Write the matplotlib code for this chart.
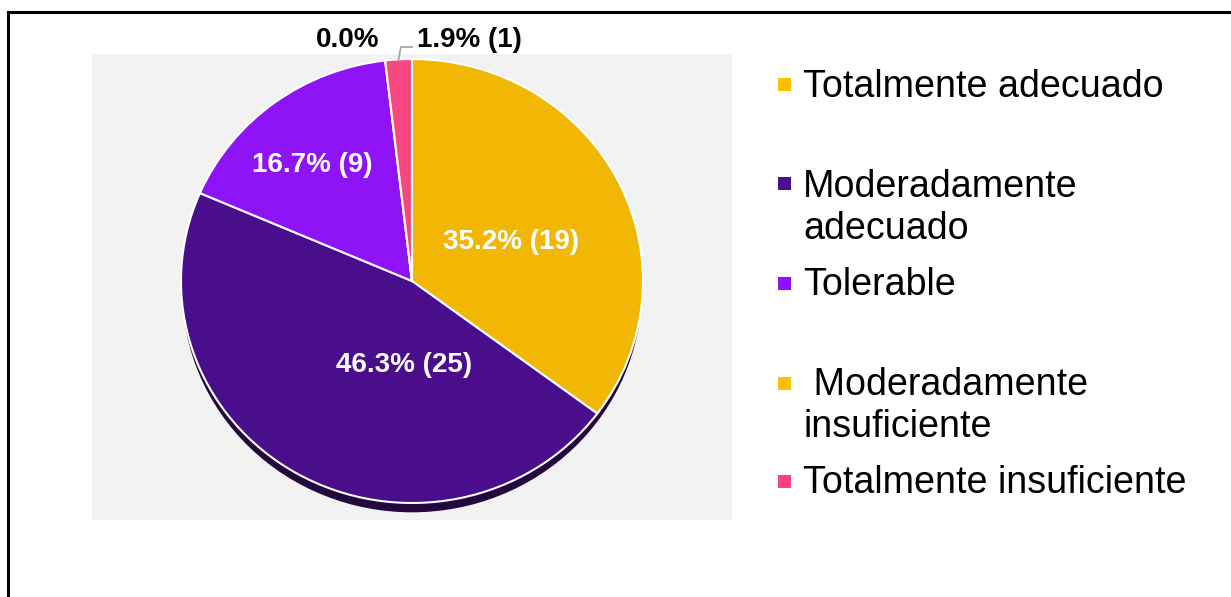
import matplotlib
matplotlib.use("Agg")
import matplotlib.pyplot as plt
from matplotlib.patches import Rectangle, Ellipse
from matplotlib.lines import Line2D
import numpy as np

categories = ["Totalmente adecuado", "Moderadamente adecuado", "Tolerable",
              "Moderadamente insuficiente", "Totalmente insuficiente"]
legend_labels = ["Totalmente adecuado", "Moderadamente\nadecuado", "Tolerable",
                 " Moderadamente\ninsuficiente", "Totalmente insuficiente"]
counts = [19, 25, 9, 0, 1]
colors = ["#f2b705", "#4a0e8c", "#8f13f7", "#f2b705", "#f7477f"]
legend_colors = ["#ffc000", "#4b0d91", "#8f12fe", "#ffc000", "#ff4081"]

W, H = 1231, 597
fig = plt.figure(figsize=(W / 100, H / 100), dpi=100)
fig.patch.set_facecolor("white")

def fx(px):
    return px / W

def fy(py):
    return 1 - py / H

# outer frame (left and top lines)
fig.add_artist(Line2D([fx(8), fx(8)], [fy(12), 0], color="black", lw=2.2,
                      transform=fig.transFigure))
fig.add_artist(Line2D([fx(8), 1], [fy(12), fy(12)], color="black", lw=2.2,
                      transform=fig.transFigure))

# gray plot area
fig.add_artist(Rectangle((fx(92), fy(520)), fx(732) - fx(92), fy(54) - fy(520),
                         transform=fig.transFigure, facecolor="#f2f2f2",
                         edgecolor="none", zorder=0))

# pie axes
cx, cy, rx, ry = 412, 281, 231, 222
ax = fig.add_axes([fx(cx - rx), fy(cy + ry), 2 * rx / W, 2 * ry / H])
ax.set_facecolor("none")

total = sum(counts)
ax.add_patch(Ellipse((0, -0.042), 1.99, 2.0, facecolor="#22083f",
                     edgecolor="none", zorder=0, clip_on=False))
wedges, _ = ax.pie(counts, colors=colors, startangle=90, counterclock=False,
                   radius=1.0, wedgeprops=dict(edgecolor="white", linewidth=1.5),
                   frame=False)
ax.set_aspect("auto")
ax.set_xlim(-1, 1)
ax.set_ylim(-1, 1)
ax.axis("off")

pcts = [100 * c / total for c in counts]
texts = [f"{p:.1f}% ({c})" if c > 0 else f"{p:.1f}%" for p, c in zip(pcts, counts)]

label_pos = [(0.43, 0.176), (-0.035, -0.378), (-0.433, 0.523), (-0.277, 1.086), (0.022, 1.086)]
label_ha = ["center", "center", "center", "center", "left"]
label_col = ["white", "white", "white", "black", "black"]
for t, (x, y), ha, c in zip(texts, label_pos, label_ha, label_col):
    ax.text(x, y, t, ha=ha, va="center", color=c, fontsize=20, fontweight="bold",
            family="Liberation Sans", clip_on=False, zorder=5)

# leader line for the small slice
w = wedges[4]
ang = np.deg2rad((w.theta1 + w.theta2) / 2)
ex, ey = np.cos(ang), np.sin(ang)
ax.plot([ex, ex + 0.01, 0.0], [ey, 1.054, 1.054], color="#a6a6a6", lw=1.3,
        clip_on=False, zorder=4)

# legend
marker_y = [85, 183.5, 283, 383, 481]
base_y = [97, 197, 295, 395, 493]
for lab, col, my, by in zip(legend_labels, legend_colors, marker_y, base_y):
    fig.add_artist(Rectangle((fx(778), fy(my + 6.5)), 13 / W, 13 / H,
                             transform=fig.transFigure, facecolor=col,
                             edgecolor="none"))
    for i, line in enumerate(lab.split("\n")):
        fig.text(fx(803), fy(by + 42 * i), line, ha="left", va="baseline",
                 fontsize=27.1, family="Liberation Sans", color="black")

fig.savefig("out.png", dpi=100)
